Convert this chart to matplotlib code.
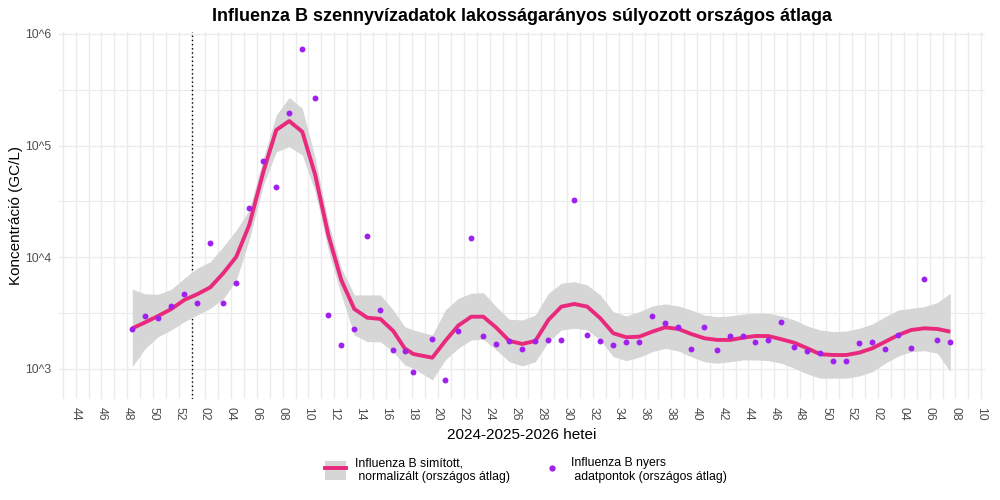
import matplotlib
matplotlib.use("Agg")
from matplotlib import pyplot as plt
from matplotlib.patches import Patch
from matplotlib.lines import Line2D
from matplotlib.legend_handler import HandlerTuple
import numpy as np

plt.rcParams["font.family"] = ["Liberation Sans", "DejaVu Sans"]

# week index: 0 = 2024 W44 ... 70 = 2026 W10
week_numbers = list(range(43, 53)) + list(range(1, 53)) + list(range(1, 11))
first_week_index = -1
year_break_week = 9  # 2025 W01

# sampling positions (fractional week index)
sample_week = [4.38, 5.39, 6.39, 7.40, 8.40, 9.40, 10.41, 11.41, 12.42, 13.42,
               14.51, 15.51, 16.51, 17.52, 18.52, 19.53, 20.53, 21.54, 22.54, 23.55,
               24.55, 25.43, 26.10, 27.57, 28.57, 29.57, 30.58, 31.51, 32.51, 33.52,
               34.53, 35.53, 36.54, 37.54, 38.54, 39.54, 40.55, 41.55, 42.56, 43.56,
               44.57, 45.57, 46.58, 47.58, 48.58, 49.59, 50.59, 51.60, 52.53, 53.53,
               54.54, 55.54, 56.55, 57.55, 58.56, 59.56, 60.56, 61.57, 62.57, 63.58,
               64.58, 65.59, 66.59, 67.60]

# raw concentrations, log10(GC/L)
raw_log10 = [3.355, 3.472, 3.454, 3.567, 3.669, 3.588, 4.125, 3.588, 3.767, 4.439,
             4.860, 4.627, 5.289, 5.862, 5.424, 3.481, 3.212, 3.355, 4.191, 3.526,
             3.167, 3.158, 2.970, 3.266, 2.899, 3.338, 4.170, 3.293, 3.221, 3.248,
             3.176, 3.248, 3.257, 3.257, 4.510, 3.302, 3.248, 3.212, 3.239, 3.239,
             3.472, 3.409, 3.373, 3.176, 3.373, 3.167, 3.293, 3.293, 3.239, 3.257,
             3.418, 3.194, 3.158, 3.141, 3.069, 3.069, 3.230, 3.239, 3.176, 3.302,
             3.185, 3.803, 3.257, 3.239]

# smoothed fit and confidence band, log10(GC/L)
fit_log10 = [3.364, 3.418, 3.475, 3.537, 3.618, 3.669, 3.731, 3.857, 4.005, 4.289,
             4.766, 5.140, 5.220, 5.124, 4.737, 4.200, 3.797, 3.537, 3.459, 3.448,
             3.340, 3.185, 3.134, 3.101, 3.251, 3.388, 3.468, 3.468, 3.370, 3.251,
             3.224, 3.251, 3.439, 3.558, 3.582, 3.558, 3.454, 3.320, 3.284, 3.289,
             3.334, 3.373, 3.358, 3.313, 3.275, 3.260, 3.260, 3.280, 3.295, 3.295,
             3.266, 3.235, 3.185, 3.132, 3.125, 3.125, 3.146, 3.185, 3.244, 3.304,
             3.349, 3.364, 3.358, 3.334]
fit_hi_log10 = [3.714, 3.672, 3.669, 3.714, 3.812, 3.902, 3.961, 4.095, 4.244, 4.424,
                4.886, 5.274, 5.432, 5.334, 4.886, 4.316, 3.904, 3.663, 3.663, 3.663,
                3.528, 3.379, 3.349, 3.304, 3.528, 3.633, 3.678, 3.683, 3.558, 3.445,
                3.439, 3.483, 3.678, 3.767, 3.782, 3.752, 3.663, 3.513, 3.475, 3.513,
                3.564, 3.582, 3.564, 3.528, 3.483, 3.468, 3.475, 3.492, 3.499, 3.499,
                3.475, 3.439, 3.385, 3.349, 3.334, 3.340, 3.364, 3.403, 3.468, 3.528,
                3.543, 3.558, 3.594, 3.678]
fit_lo_log10 = [3.021, 3.185, 3.289, 3.349, 3.423, 3.483, 3.543, 3.627, 3.797, 4.155,
                4.647, 4.945, 4.990, 4.916, 4.587, 4.065, 3.663, 3.304, 3.244, 3.244,
                3.155, 3.036, 3.006, 2.902, 3.081, 3.185, 3.260, 3.266, 3.170, 3.065,
                3.027, 3.065, 3.244, 3.349, 3.364, 3.349, 3.260, 3.110, 3.074, 3.105,
                3.155, 3.185, 3.161, 3.110, 3.065, 3.051, 3.065, 3.081, 3.081, 3.074,
                3.051, 3.006, 2.955, 2.917, 2.917, 2.917, 2.937, 2.976, 3.051, 3.116,
                3.155, 3.164, 3.141, 2.976]

y_decades = [3, 4, 5, 6]

PINK = "#E8297C"
PURPLE = "#A020F0"
BAND = "#D6D6D6"
GRID = "#EBEBEB"
TXT = "#4D4D4D"

x = np.array(sample_week)
raw = 10 ** np.array(raw_log10)
fit = 10 ** np.array(fit_log10)
lo = 10 ** np.array(fit_lo_log10)
hi = 10 ** np.array(fit_hi_log10)

fig = plt.figure(figsize=(10, 5), dpi=100)
ax = fig.add_axes([0.0585, 0.202, 0.9265, 0.7346])
ax.set_yscale("log")

# grid
week_idx = np.arange(len(week_numbers)) + first_week_index
for w in week_idx:
    ax.axvline(w, color=GRID, lw=1.0, zorder=0)
for d in y_decades:
    ax.axhline(10 ** d, color=GRID, lw=1.0, zorder=0)
for d in y_decades[:-1]:
    ax.axhline(10 ** (d + 0.5), color=GRID, lw=0.8, zorder=0)

ax.axvline(year_break_week, color="black", lw=1.0, ls=(0, (1, 2)), zorder=1)

ax.fill_between(x, lo, hi, color=BAND, lw=0, zorder=2)
ax.plot(x, fit, color=PINK, lw=2.8, zorder=3, solid_capstyle="butt")
ax.scatter(x, raw, s=18, color=PURPLE, lw=0, zorder=4)

ax.set_xlim(-1.32, 70.28)
ax.set_ylim(10 ** 2.731, 10 ** 6.02)

major = [w for w in week_idx if w % 2 == 0]
ax.set_xticks(major)
ax.set_xticklabels([f"{week_numbers[w - first_week_index]:02d}" for w in major],
                   rotation=-90, ha="center", va="top", fontsize=8.8, color=TXT)
ax.set_xticks([], minor=True)
ax.set_yticks([10 ** d for d in y_decades])
ax.set_yticklabels([f"10^{d}" for d in y_decades], fontsize=8.8, color=TXT)
ax.yaxis.set_minor_locator(matplotlib.ticker.NullLocator())
ax.tick_params(length=0, pad=5)
ax.tick_params(axis="x", pad=6)
for s in ax.spines.values():
    s.set_visible(False)

ax.set_xlabel("2024-2025-2026 hetei", fontsize=11, labelpad=5)
ax.set_ylabel("Koncentráció (GC/L)", fontsize=11, labelpad=2)
ax.set_title("Influenza B szennyvízadatok lakosságarányos súlyozott országos átlaga",
             fontsize=13, fontweight="bold", pad=8)

h1 = (Patch(facecolor=BAND, edgecolor="none"), Line2D([], [], color=PINK, lw=2.8))
h2 = Line2D([], [], ls="none", marker="o", ms=4.5, color=PURPLE, mew=0)
fig.legend([h1, h2],
           ["Influenza B simított,\n normalizált (országos átlag)",
            "Influenza B nyers\n adatpontok (országos átlag)"],
           handler_map={tuple: HandlerTuple(ndivide=1, pad=0)},
           loc="center", bbox_to_anchor=(0.526, 0.06), ncol=2, frameon=False,
           fontsize=8.8, handlelength=1.7, handleheight=2.0, handletextpad=0.7,
           columnspacing=2.6)

fig.savefig("out.png", dpi=100)
